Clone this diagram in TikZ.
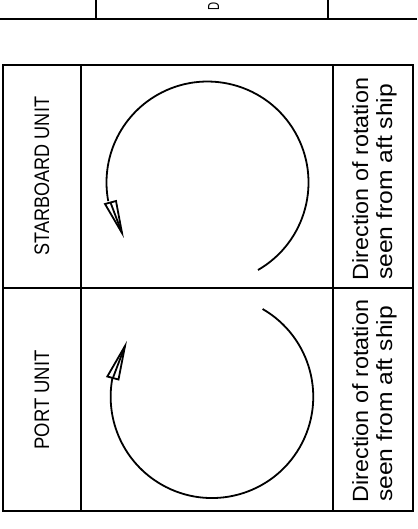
\documentclass[tikz,border=0pt]{standalone}
\usepackage{fontspec}
\setmainfont{Liberation Sans}
\usetikzlibrary{calc}
\begin{document}
\begin{tikzpicture}[x=1pt,y=-1pt,
  frame/.style={line width=1.9pt},
  grid/.style={line width=1.8pt},
  rot/.style={line width=1.8pt},
  headtri/.style={line width=1.8pt,line join=miter},
  lbl/.style={rotate=90,inner sep=0pt,font=\fontsize{21}{25}\selectfont},
  note/.style={rotate=90,inner sep=0pt,anchor=base,font=\fontsize{22}{26}\selectfont}]
\useasboundingbox (0,0) rectangle (417,529);
% top strip
\draw[grid] (0,19) -- (417,19);
\draw[grid] (96,0) -- (96,19);
\draw[grid] (328,0) -- (328,19);
\begin{scope}
\clip (0,0) rectangle (417,19);
\node[rotate=90,inner sep=0pt,anchor=west,font=\fontsize{16}{19}\selectfont] (d) at (213.5,10.5) {\scalebox{0.7}[1]{D}};
\end{scope}
% table
\draw[frame] (3,65) rectangle (413,511);
\draw[grid] (81,65) -- (81,511);
\draw[grid] (333,65) -- (333,511);
\draw[grid] (3,288) -- (413,288);
% labels
\node[lbl] (stb) at (42,176) {\scalebox{0.86}[1]{STARBOARD UNIT}};
\node[lbl] (port) at (42,400) {\scalebox{0.88}[1]{PORT UNIT}};
\node[note] (t1) at (368,179) {\scalebox{1.06}[1]{Direction of rotation}};
\node[note] (t2) at (392,182) {\scalebox{1.12}[1]{seen from aft ship}};
\node[note] (b1) at (368,401) {\scalebox{1.06}[1]{Direction of rotation}};
\node[note] (b2) at (392,404) {\scalebox{1.12}[1]{seen from aft ship}};
% starboard rotation arrow
\draw[rot] (258,270) arc[start angle=60,end angle=-190.6,radius=101];
\coordinate (sa) at (105,204);
\coordinate (sb) at (116,201);
\coordinate (st) at (122,233);
\draw[headtri] (sa) -- (sb) -- (st) -- cycle;
\draw[rot] ($(sa)!0.5!(sb)$) -- (st);
% port rotation arrow
\draw[rot] (262.6,309) arc[start angle=-60,end angle=190.6,radius=101.3];
\coordinate (pa) at (107.3,376.5);
\coordinate (pb) at (118.5,379.5);
\coordinate (pt) at (125,346);
\draw[headtri] (pa) -- (pb) -- (pt) -- cycle;
\draw[rot] ($(pa)!0.5!(pb)$) -- (pt);
\end{tikzpicture}
\end{document}
